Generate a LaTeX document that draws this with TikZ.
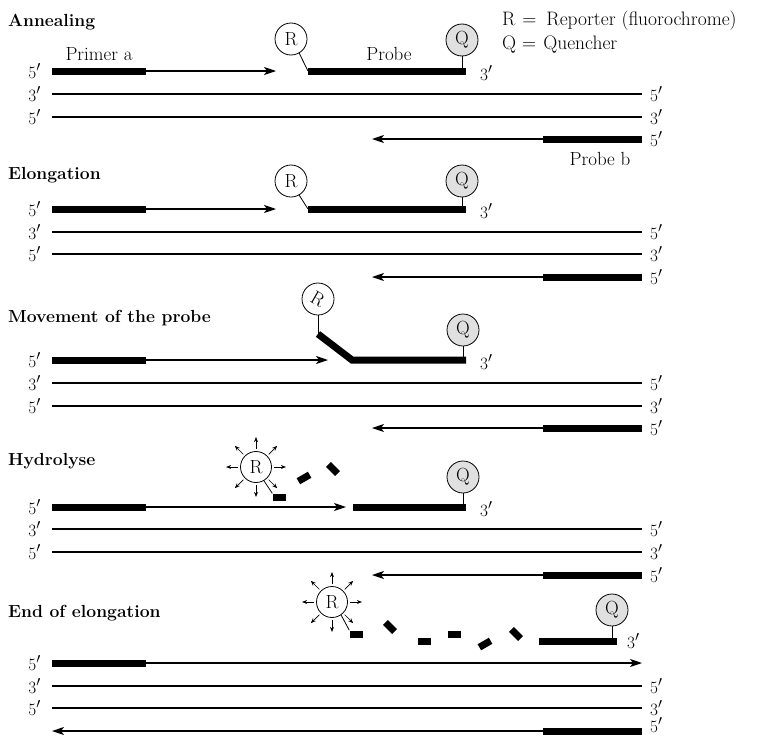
\documentclass[tikz,border=0pt]{standalone}
\usepackage{fontspec}
\usetikzlibrary{arrows.meta,calc}

\begin{document}
\begin{tikzpicture}[x=1pt,y=-1pt,
  every node/.style={font=\fontsize{19}{22}\selectfont},
  title/.style={anchor=base west,inner sep=0pt,font=\fontsize{17.5}{21}\selectfont\bfseries},
  key/.style={anchor=base west,inner sep=0pt,font=\fontsize{19.5}{22}\selectfont},
  lend/.style={anchor=east,inner sep=0pt},
  rend/.style={anchor=west,inner sep=0pt},
  strand/.style={line width=1.1pt},
  bar/.style={line width=7pt},
  extend/.style={line width=1.1pt,-{Stealth[length=12pt,width=8pt,inset=3pt]}},
  dye/.style={circle,draw,line width=0.8pt,minimum size=32pt,inner sep=0pt,fill=white},
  quench/.style={dye,fill=black!12},
  tether/.style={line width=0.8pt},
  frag/.style={fill=black,minimum width=13pt,minimum height=7pt,inner sep=0pt},
  ray/.style={line width=0.7pt,-{Stealth[length=5pt,width=4pt]}}]
\useasboundingbox (0,0) rectangle (762,736);

% key
\node[key] (keyR) at (502,25) {R\hspace{7pt}=\hspace{10pt}Reporter (fluorochrome)};
\node[key] (keyQ) at (502,49) {Q\hspace{6pt}=\hspace{7pt}Quencher};

%%% Annealing
\node[title] (t1) at (8,26) {Annealing};
\node[anchor=base] (prima) at (99,60) {Primer a};
\node[anchor=base] (probe) at (389,60) {Probe};
\node[anchor=base] (probb) at (600,165) {Probe b};
% strand ends
\node[lend] (a11) at (41,71) {$5'$};
\node[lend] (a12) at (41,94) {$3'$};
\node[lend] (a13) at (41,117) {$5'$};
\node[rend] (b12) at (650,94) {$5'$};
\node[rend] (b13) at (650,117) {$3'$};
\node[rend] (b14) at (650,139) {$5'$};
\node[rend] (p1) at (480,73) {$3'$};
\coordinate (pa1) at (146,71);
\coordinate (tip1) at (276,71);
\coordinate (ps1) at (308,71);
\coordinate (pe1) at (466,71);
\coordinate (pb1) at (543,139);
\coordinate (tb1) at (372,139);
% reporter and quencher
\node[dye] (R1) at (291,39) {R};
\node[quench] (Q1) at (462,40) {Q};
\draw[tether] (R1.-60) -- (ps1);
\draw[tether] (Q1) -- (Q1 |- pe1);
% strands
\draw[bar] ([xshift=11pt]a11.east) -- (pa1);
\draw[extend] (pa1) -- (tip1);
\draw[bar] (ps1) -- (pe1);
\draw[strand] ([xshift=11pt]a12.east) -- ([xshift=-8pt]b12.west);
\draw[strand] ([xshift=11pt]a13.east) -- ([xshift=-8pt]b13.west);
\draw[extend] ([xshift=-8pt]b14.west) -- (tb1);
\draw[bar] (pb1) -- ([xshift=-8pt]b14.west);

%%% Elongation
\node[title] (t2) at (8,179) {Elongation};
\node[lend] (a21) at (41,209) {$5'$};
\node[lend] (a22) at (41,232) {$3'$};
\node[lend] (a23) at (41,254) {$5'$};
\node[rend] (b22) at (650,232) {$5'$};
\node[rend] (b23) at (650,254) {$3'$};
\node[rend] (b24) at (650,277) {$5'$};
\node[rend] (p2) at (480,211) {$3'$};
\coordinate (pa2) at (146,209);
\coordinate (tip2) at (276,209);
\coordinate (ps2) at (308,209);
\coordinate (pe2) at (466,209);
\coordinate (pb2) at (543,277);
\coordinate (tb2) at (372,277);
\node[dye] (R2) at (291,181) {R};
\node[quench] (Q2) at (462,181) {Q};
\draw[tether] (R2.-60) -- (ps2);
\draw[tether] (Q2) -- (Q2 |- pe2);
\draw[bar] ([xshift=11pt]a21.east) -- (pa2);
\draw[extend] (pa2) -- (tip2);
\draw[bar] (ps2) -- (pe2);
\draw[strand] ([xshift=11pt]a22.east) -- ([xshift=-8pt]b22.west);
\draw[strand] ([xshift=11pt]a23.east) -- ([xshift=-8pt]b23.west);
\draw[extend] ([xshift=-8pt]b24.west) -- (tb2);
\draw[bar] (pb2) -- ([xshift=-8pt]b24.west);

%%% Movement of the probe
\node[title] (t3) at (8,322) {Movement of the probe};
\node[lend] (a31) at (41,360) {$5'$};
\node[lend] (a32) at (41,383) {$3'$};
\node[lend] (a33) at (41,406) {$5'$};
\node[rend] (b32) at (650,383) {$5'$};
\node[rend] (b33) at (650,406) {$3'$};
\node[rend] (b34) at (650,428) {$5'$};
\node[rend] (p3) at (480,362) {$3'$};
\coordinate (pa3) at (146,360);
\coordinate (tip3) at (328,360);
\coordinate (ps3) at (318,334);
\coordinate (pk3) at (352,360);
\coordinate (pe3) at (466,360);
\coordinate (pb3) at (543,428);
\coordinate (tb3) at (372,428);
\node[dye] (R3) at (318,299) {\rotatebox[origin=c]{-30}{R}};
\node[quench] (Q3) at (463,330) {Q};
\draw[tether] (R3) -- (ps3);
\draw[tether] (Q3) -- (Q3 |- pe3);
\draw[bar] ([xshift=11pt]a31.east) -- (pa3);
\draw[extend] (pa3) -- (tip3);
\draw[bar] (ps3) -- (pk3) -- (pe3);
\draw[strand] ([xshift=11pt]a32.east) -- ([xshift=-8pt]b32.west);
\draw[strand] ([xshift=11pt]a33.east) -- ([xshift=-8pt]b33.west);
\draw[extend] ([xshift=-8pt]b34.west) -- (tb3);
\draw[bar] (pb3) -- ([xshift=-8pt]b34.west);

%%% Hydrolyse
\node[title] (t4) at (8,465) {Hydrolyse};
\node[lend] (a41) at (41,507) {$5'$};
\node[lend] (a42) at (41,529) {$3'$};
\node[lend] (a43) at (41,552) {$5'$};
\node[rend] (b42) at (650,529) {$5'$};
\node[rend] (b43) at (650,552) {$3'$};
\node[rend] (b44) at (650,575) {$5'$};
\node[rend] (p4) at (480,509) {$3'$};
\coordinate (pa4) at (146,507);
\coordinate (tip4) at (346,507);
\coordinate (ps4) at (353,507);
\coordinate (pe4) at (466,507);
\coordinate (pb4) at (543,575);
\coordinate (tb4) at (372,575);
\node[dye,minimum size=31pt] (R4) at (256,467) {R};
\node[quench] (Q4) at (463,477) {Q};
% freed fragments
\node[frag] (f41) at (279,497) {};
\node[frag,rotate=30] (f42) at (304,478) {};
\node[frag,rotate=-45] (f43) at (333,469) {};
\draw[tether] (R4.-60) -- (f41.north west);
\foreach \a in {0,45,...,315}
  \draw[ray] ($(R4.\a)!-2pt!(R4.center)$) -- ($(R4.\a)!-14pt!(R4.center)$);
\draw[tether] (Q4) -- (Q4 |- pe4);
\draw[bar] ([xshift=11pt]a41.east) -- (pa4);
\draw[extend] (pa4) -- (tip4);
\draw[bar] (ps4) -- (pe4);
\draw[strand] ([xshift=11pt]a42.east) -- ([xshift=-8pt]b42.west);
\draw[strand] ([xshift=11pt]a43.east) -- ([xshift=-8pt]b43.west);
\draw[extend] ([xshift=-8pt]b44.west) -- (tb4);
\draw[bar] (pb4) -- ([xshift=-8pt]b44.west);

%%% End of elongation
\node[title] (t5) at (8,617) {End of elongation};
\node[lend] (a51) at (41,663) {$5'$};
\node[lend] (a52) at (41,686) {$3'$};
\node[lend] (a53) at (41,708) {$5'$};
\node[rend] (b52) at (650,686) {$5'$};
\node[rend] (b53) at (650,708) {$3'$};
\node[rend] (b54) at (650,725) {$5'$};
\node[rend] (p5) at (627,641) {$3'$};
\coordinate (pa5) at (146,663);
\coordinate (tip5) at (642,663);
\coordinate (ps5) at (539,641);
\coordinate (pe5) at (617,641);
\coordinate (pe54) at (642,731);
\coordinate (pb5) at (543,731);
\coordinate (tb5) at (52,731);
\node[dye,minimum size=31pt] (R5) at (332,602) {R};
\node[quench] (Q5) at (612,610) {Q};
\node[frag] (f51) at (356,634) {};
\node[frag,rotate=-45] (f52) at (390,627) {};
\node[frag] (f53) at (424,641) {};
\node[frag] (f54) at (454,634) {};
\node[frag,rotate=30] (f55) at (485,644) {};
\node[frag,rotate=-45] (f56) at (516,634) {};
\draw[tether] (R5.-55) -- (f51.north west);
\foreach \a in {0,45,...,315}
  \draw[ray] ($(R5.\a)!-2pt!(R5.center)$) -- ($(R5.\a)!-14pt!(R5.center)$);
\draw[tether] (Q5) -- (Q5 |- pe5);
\draw[bar] ([xshift=11pt]a51.east) -- (pa5);
\draw[extend] (pa5) -- (tip5);
\draw[bar] (ps5) -- (pe5);
\draw[strand] ([xshift=11pt]a52.east) -- ([xshift=-8pt]b52.west);
\draw[strand] ([xshift=11pt]a53.east) -- ([xshift=-8pt]b53.west);
\draw[extend] (pe54) -- (tb5);
\draw[bar] (pb5) -- (pe54);

\end{tikzpicture}
\end{document}
